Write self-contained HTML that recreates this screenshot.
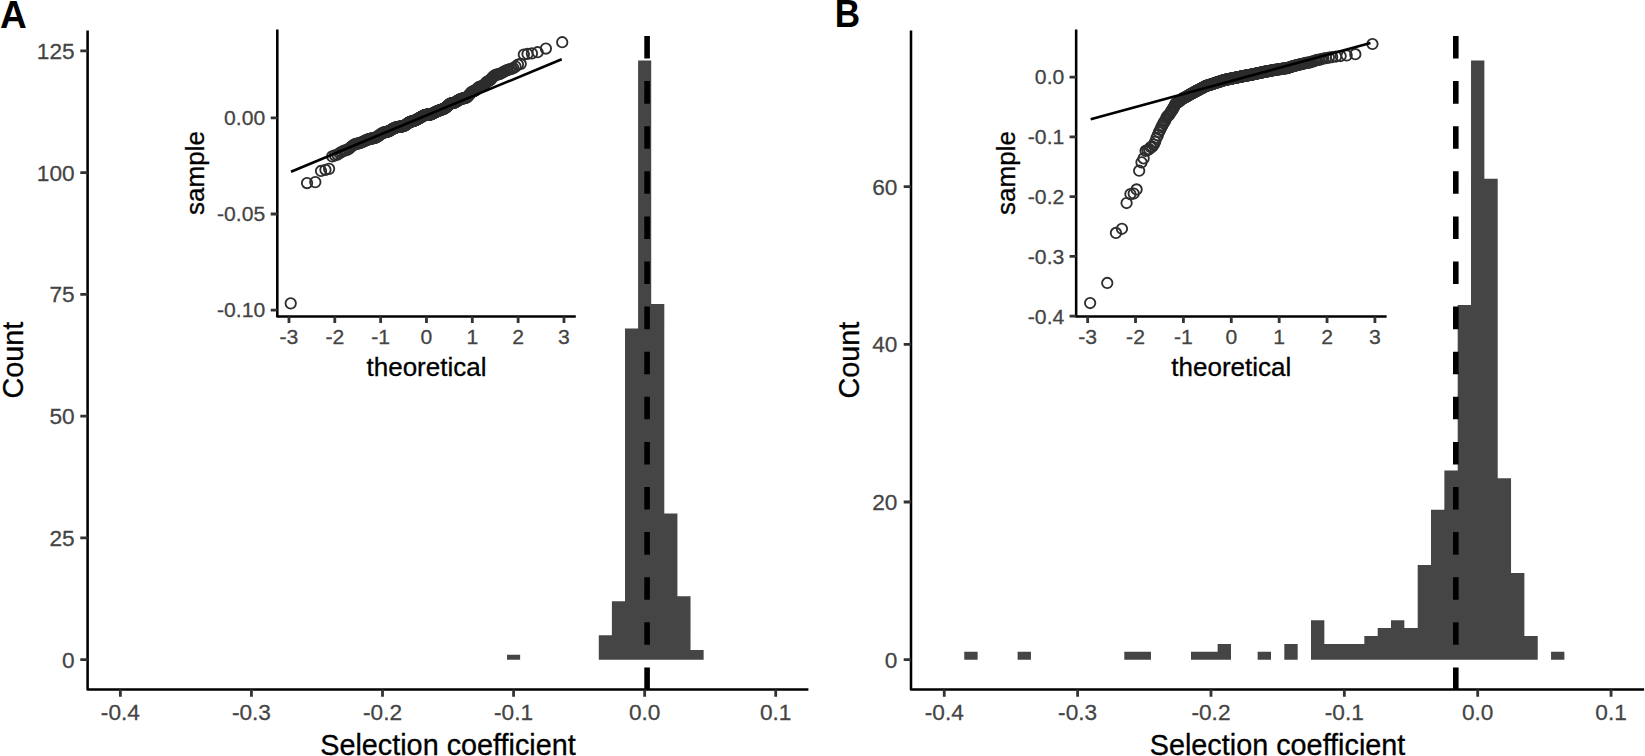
<!DOCTYPE html>
<html lang="en"><head><meta charset="utf-8"><title>Selection coefficient distributions</title>
<style>html,body{margin:0;padding:0;background:#fff;overflow:hidden}body{width:1645px;height:756px;font-family:"Liberation Sans", sans-serif}svg{display:block}</style></head>
<body>
<svg width="1645" height="756" viewBox="0 0 1645 756" font-family='"Liberation Sans", sans-serif' fill="#000">
<rect width="1645" height="756" fill="#fff"/>
<g id="panel-A">
<path d="M507.03 659.65h13.11v-4.87h-13.11zM598.78 659.65h13.11v-24.35h-13.11zM611.88 659.65h13.11v-58.45h-13.11zM624.99 659.65h13.11v-331.22h-13.11zM638.1 659.65h13.11v-599.12h-13.11zM651.2 659.65h13.11v-355.58h-13.11zM664.31 659.65h13.11v-146.13h-13.11zM677.42 659.65h13.11v-63.32h-13.11zM690.52 659.65h13.11v-9.74h-13.11z" fill="#454545"/>
<line x1="647.1" y1="689.95" x2="647.1" y2="30.6" stroke="#000" stroke-width="5.6" stroke-dasharray="22.55 22.55"/>
<path d="M87.6 30.6V689.5H808.4" stroke="#000" stroke-width="2.55" stroke-linejoin="round" fill="none"/>
<path d="M120.37 689.5v7.3M251.44 689.5v7.3M382.51 689.5v7.3M513.58 689.5v7.3M644.65 689.5v7.3M775.72 689.5v7.3M87.6 659.65h-7.3M87.6 537.88h-7.3M87.6 416.11h-7.3M87.6 294.33h-7.3M87.6 172.56h-7.3M87.6 50.79h-7.3" stroke="#333" stroke-width="2.8" fill="none"/>
<g font-size="21.8" fill="#444" stroke="#444" stroke-width="0.25">
<text transform="translate(120.37 720.3) scale(1.04 1)" text-anchor="middle">-0.4</text>
<text transform="translate(251.44 720.3) scale(1.04 1)" text-anchor="middle">-0.3</text>
<text transform="translate(382.51 720.3) scale(1.04 1)" text-anchor="middle">-0.2</text>
<text transform="translate(513.58 720.3) scale(1.04 1)" text-anchor="middle">-0.1</text>
<text transform="translate(644.65 720.3) scale(1.04 1)" text-anchor="middle">0.0</text>
<text transform="translate(775.72 720.3) scale(1.04 1)" text-anchor="middle">0.1</text>
<text transform="translate(74.6 667.65) scale(1.04 1)" text-anchor="end">0</text>
<text transform="translate(74.6 545.88) scale(1.04 1)" text-anchor="end">25</text>
<text transform="translate(74.6 424.11) scale(1.04 1)" text-anchor="end">50</text>
<text transform="translate(74.6 302.33) scale(1.04 1)" text-anchor="end">75</text>
<text transform="translate(74.6 180.56) scale(1.04 1)" text-anchor="end">100</text>
<text transform="translate(74.6 58.79) scale(1.04 1)" text-anchor="end">125</text>
</g>
<text x="448" y="754.6" font-size="28.8" stroke="#000" stroke-width="0.3" text-anchor="middle">Selection coefficient</text>
<text transform="translate(23.3 360.05) rotate(-90)" font-size="28.8" stroke="#000" stroke-width="0.3" text-anchor="middle">Count</text>
<text transform="translate(0 27.7) scale(0.97 1)" font-size="38.2" font-weight="bold">A</text>
<g id="inset-A">
<g fill="none" stroke="#2d2d2d" stroke-width="1.85">
<circle cx="290.72" cy="303.36" r="5.2"/>
<circle cx="307.05" cy="183.08" r="5.2"/>
<circle cx="315.31" cy="182.11" r="5.2"/>
<circle cx="321.02" cy="170.97" r="5.2"/>
<circle cx="325.45" cy="169.82" r="5.2"/>
<circle cx="329.1" cy="168.86" r="5.2"/>
<circle cx="332.22" cy="156.37" r="5.2"/>
<circle cx="334.96" cy="155.34" r="5.2"/>
<circle cx="337.41" cy="154.58" r="5.2"/>
<circle cx="339.62" cy="153.17" r="5.2"/>
<circle cx="341.65" cy="151.83" r="5.2"/>
<circle cx="343.52" cy="150.97" r="5.2"/>
<circle cx="345.27" cy="150.45" r="5.2"/>
<circle cx="346.91" cy="149.9" r="5.2"/>
<circle cx="348.45" cy="149.07" r="5.2"/>
<circle cx="349.9" cy="147.97" r="5.2"/>
<circle cx="351.28" cy="146.76" r="5.2"/>
<circle cx="352.6" cy="145.64" r="5.2"/>
<circle cx="353.86" cy="144.76" r="5.2"/>
<circle cx="355.07" cy="144.16" r="5.2"/>
<circle cx="356.23" cy="143.8" r="5.2"/>
<circle cx="357.34" cy="143.56" r="5.2"/>
<circle cx="358.42" cy="143.36" r="5.2"/>
<circle cx="359.46" cy="143.11" r="5.2"/>
<circle cx="360.47" cy="142.78" r="5.2"/>
<circle cx="361.44" cy="142.43" r="5.2"/>
<circle cx="362.39" cy="142.04" r="5.2"/>
<circle cx="363.31" cy="141.6" r="5.2"/>
<circle cx="364.21" cy="141.16" r="5.2"/>
<circle cx="365.08" cy="140.73" r="5.2"/>
<circle cx="365.93" cy="140.32" r="5.2"/>
<circle cx="366.76" cy="139.94" r="5.2"/>
<circle cx="367.57" cy="139.6" r="5.2"/>
<circle cx="368.37" cy="139.31" r="5.2"/>
<circle cx="369.14" cy="139.06" r="5.2"/>
<circle cx="369.9" cy="138.86" r="5.2"/>
<circle cx="370.65" cy="138.69" r="5.2"/>
<circle cx="371.38" cy="138.55" r="5.2"/>
<circle cx="372.09" cy="138.42" r="5.2"/>
<circle cx="372.8" cy="138.29" r="5.2"/>
<circle cx="373.49" cy="138.16" r="5.2"/>
<circle cx="374.17" cy="138" r="5.2"/>
<circle cx="374.84" cy="137.8" r="5.2"/>
<circle cx="375.49" cy="137.57" r="5.2"/>
<circle cx="376.14" cy="137.3" r="5.2"/>
<circle cx="376.78" cy="136.97" r="5.2"/>
<circle cx="377.41" cy="136.6" r="5.2"/>
<circle cx="378.03" cy="136.2" r="5.2"/>
<circle cx="378.64" cy="135.77" r="5.2"/>
<circle cx="379.24" cy="135.32" r="5.2"/>
<circle cx="379.83" cy="134.87" r="5.2"/>
<circle cx="380.42" cy="134.43" r="5.2"/>
<circle cx="380.99" cy="134.01" r="5.2"/>
<circle cx="381.57" cy="133.62" r="5.2"/>
<circle cx="382.13" cy="133.27" r="5.2"/>
<circle cx="382.69" cy="132.97" r="5.2"/>
<circle cx="383.24" cy="132.72" r="5.2"/>
<circle cx="383.78" cy="132.52" r="5.2"/>
<circle cx="384.32" cy="132.36" r="5.2"/>
<circle cx="384.86" cy="132.23" r="5.2"/>
<circle cx="385.38" cy="132.12" r="5.2"/>
<circle cx="385.91" cy="132.02" r="5.2"/>
<circle cx="386.42" cy="131.91" r="5.2"/>
<circle cx="386.94" cy="131.8" r="5.2"/>
<circle cx="387.44" cy="131.66" r="5.2"/>
<circle cx="387.95" cy="131.5" r="5.2"/>
<circle cx="388.44" cy="131.32" r="5.2"/>
<circle cx="388.94" cy="131.1" r="5.2"/>
<circle cx="389.43" cy="130.86" r="5.2"/>
<circle cx="389.91" cy="130.61" r="5.2"/>
<circle cx="390.39" cy="130.33" r="5.2"/>
<circle cx="390.87" cy="130.04" r="5.2"/>
<circle cx="391.34" cy="129.75" r="5.2"/>
<circle cx="391.81" cy="129.47" r="5.2"/>
<circle cx="392.28" cy="129.19" r="5.2"/>
<circle cx="392.74" cy="128.91" r="5.2"/>
<circle cx="393.2" cy="128.65" r="5.2"/>
<circle cx="393.65" cy="128.41" r="5.2"/>
<circle cx="394.11" cy="128.19" r="5.2"/>
<circle cx="394.56" cy="127.98" r="5.2"/>
<circle cx="395" cy="127.8" r="5.2"/>
<circle cx="395.45" cy="127.64" r="5.2"/>
<circle cx="395.89" cy="127.49" r="5.2"/>
<circle cx="396.32" cy="127.36" r="5.2"/>
<circle cx="396.76" cy="127.24" r="5.2"/>
<circle cx="397.19" cy="127.14" r="5.2"/>
<circle cx="397.62" cy="127.05" r="5.2"/>
<circle cx="398.05" cy="126.97" r="5.2"/>
<circle cx="398.47" cy="126.9" r="5.2"/>
<circle cx="398.89" cy="126.83" r="5.2"/>
<circle cx="399.31" cy="126.77" r="5.2"/>
<circle cx="399.73" cy="126.71" r="5.2"/>
<circle cx="400.15" cy="126.66" r="5.2"/>
<circle cx="400.56" cy="126.61" r="5.2"/>
<circle cx="400.97" cy="126.55" r="5.2"/>
<circle cx="401.38" cy="126.49" r="5.2"/>
<circle cx="401.79" cy="126.43" r="5.2"/>
<circle cx="402.19" cy="126.36" r="5.2"/>
<circle cx="402.6" cy="126.27" r="5.2"/>
<circle cx="403" cy="126.17" r="5.2"/>
<circle cx="403.4" cy="126.05" r="5.2"/>
<circle cx="403.8" cy="125.91" r="5.2"/>
<circle cx="404.19" cy="125.74" r="5.2"/>
<circle cx="404.59" cy="125.55" r="5.2"/>
<circle cx="404.98" cy="125.34" r="5.2"/>
<circle cx="405.37" cy="125.1" r="5.2"/>
<circle cx="405.76" cy="124.85" r="5.2"/>
<circle cx="406.15" cy="124.58" r="5.2"/>
<circle cx="406.54" cy="124.29" r="5.2"/>
<circle cx="406.92" cy="123.99" r="5.2"/>
<circle cx="407.31" cy="123.69" r="5.2"/>
<circle cx="407.69" cy="123.41" r="5.2"/>
<circle cx="408.07" cy="123.13" r="5.2"/>
<circle cx="408.45" cy="122.87" r="5.2"/>
<circle cx="408.83" cy="122.63" r="5.2"/>
<circle cx="409.21" cy="122.4" r="5.2"/>
<circle cx="409.58" cy="122.2" r="5.2"/>
<circle cx="409.96" cy="122.02" r="5.2"/>
<circle cx="410.33" cy="121.87" r="5.2"/>
<circle cx="410.71" cy="121.73" r="5.2"/>
<circle cx="411.08" cy="121.61" r="5.2"/>
<circle cx="411.45" cy="121.5" r="5.2"/>
<circle cx="411.82" cy="121.41" r="5.2"/>
<circle cx="412.19" cy="121.31" r="5.2"/>
<circle cx="412.56" cy="121.22" r="5.2"/>
<circle cx="412.92" cy="121.12" r="5.2"/>
<circle cx="413.29" cy="121.01" r="5.2"/>
<circle cx="413.66" cy="120.9" r="5.2"/>
<circle cx="414.02" cy="120.79" r="5.2"/>
<circle cx="414.39" cy="120.66" r="5.2"/>
<circle cx="414.75" cy="120.52" r="5.2"/>
<circle cx="415.11" cy="120.37" r="5.2"/>
<circle cx="415.47" cy="120.21" r="5.2"/>
<circle cx="415.84" cy="120.04" r="5.2"/>
<circle cx="416.2" cy="119.87" r="5.2"/>
<circle cx="416.56" cy="119.68" r="5.2"/>
<circle cx="416.92" cy="119.49" r="5.2"/>
<circle cx="417.27" cy="119.3" r="5.2"/>
<circle cx="417.63" cy="119.1" r="5.2"/>
<circle cx="417.99" cy="118.89" r="5.2"/>
<circle cx="418.35" cy="118.69" r="5.2"/>
<circle cx="418.7" cy="118.48" r="5.2"/>
<circle cx="419.06" cy="118.28" r="5.2"/>
<circle cx="419.42" cy="118.06" r="5.2"/>
<circle cx="419.77" cy="117.85" r="5.2"/>
<circle cx="420.13" cy="117.64" r="5.2"/>
<circle cx="420.48" cy="117.44" r="5.2"/>
<circle cx="420.83" cy="117.22" r="5.2"/>
<circle cx="421.19" cy="117.01" r="5.2"/>
<circle cx="421.54" cy="116.8" r="5.2"/>
<circle cx="421.9" cy="116.59" r="5.2"/>
<circle cx="422.25" cy="116.39" r="5.2"/>
<circle cx="422.6" cy="116.19" r="5.2"/>
<circle cx="422.95" cy="116" r="5.2"/>
<circle cx="423.31" cy="115.81" r="5.2"/>
<circle cx="423.66" cy="115.64" r="5.2"/>
<circle cx="424.01" cy="115.47" r="5.2"/>
<circle cx="424.36" cy="115.32" r="5.2"/>
<circle cx="424.71" cy="115.18" r="5.2"/>
<circle cx="425.06" cy="115.06" r="5.2"/>
<circle cx="425.42" cy="114.96" r="5.2"/>
<circle cx="425.77" cy="114.88" r="5.2"/>
<circle cx="426.12" cy="114.81" r="5.2"/>
<circle cx="426.47" cy="114.77" r="5.2"/>
<circle cx="426.82" cy="114.73" r="5.2"/>
<circle cx="427.17" cy="114.72" r="5.2"/>
<circle cx="427.52" cy="114.71" r="5.2"/>
<circle cx="427.88" cy="114.7" r="5.2"/>
<circle cx="428.23" cy="114.7" r="5.2"/>
<circle cx="428.58" cy="114.7" r="5.2"/>
<circle cx="428.93" cy="114.69" r="5.2"/>
<circle cx="429.28" cy="114.66" r="5.2"/>
<circle cx="429.63" cy="114.62" r="5.2"/>
<circle cx="429.99" cy="114.57" r="5.2"/>
<circle cx="430.34" cy="114.5" r="5.2"/>
<circle cx="430.69" cy="114.4" r="5.2"/>
<circle cx="431.04" cy="114.29" r="5.2"/>
<circle cx="431.4" cy="114.16" r="5.2"/>
<circle cx="431.75" cy="114.01" r="5.2"/>
<circle cx="432.11" cy="113.85" r="5.2"/>
<circle cx="432.46" cy="113.67" r="5.2"/>
<circle cx="432.81" cy="113.49" r="5.2"/>
<circle cx="433.17" cy="113.3" r="5.2"/>
<circle cx="433.52" cy="113.11" r="5.2"/>
<circle cx="433.88" cy="112.92" r="5.2"/>
<circle cx="434.24" cy="112.73" r="5.2"/>
<circle cx="434.59" cy="112.54" r="5.2"/>
<circle cx="434.95" cy="112.35" r="5.2"/>
<circle cx="435.31" cy="112.17" r="5.2"/>
<circle cx="435.67" cy="111.99" r="5.2"/>
<circle cx="436.02" cy="111.82" r="5.2"/>
<circle cx="436.38" cy="111.65" r="5.2"/>
<circle cx="436.74" cy="111.49" r="5.2"/>
<circle cx="437.1" cy="111.33" r="5.2"/>
<circle cx="437.47" cy="111.18" r="5.2"/>
<circle cx="437.83" cy="111.02" r="5.2"/>
<circle cx="438.19" cy="110.88" r="5.2"/>
<circle cx="438.55" cy="110.74" r="5.2"/>
<circle cx="438.92" cy="110.6" r="5.2"/>
<circle cx="439.28" cy="110.47" r="5.2"/>
<circle cx="439.65" cy="110.34" r="5.2"/>
<circle cx="440.02" cy="110.19" r="5.2"/>
<circle cx="440.38" cy="110.04" r="5.2"/>
<circle cx="440.75" cy="109.9" r="5.2"/>
<circle cx="441.12" cy="109.77" r="5.2"/>
<circle cx="441.49" cy="109.64" r="5.2"/>
<circle cx="441.86" cy="109.52" r="5.2"/>
<circle cx="442.23" cy="109.39" r="5.2"/>
<circle cx="442.61" cy="109.26" r="5.2"/>
<circle cx="442.98" cy="109.13" r="5.2"/>
<circle cx="443.36" cy="108.98" r="5.2"/>
<circle cx="443.73" cy="108.82" r="5.2"/>
<circle cx="444.11" cy="108.65" r="5.2"/>
<circle cx="444.49" cy="108.45" r="5.2"/>
<circle cx="444.87" cy="108.23" r="5.2"/>
<circle cx="445.25" cy="107.98" r="5.2"/>
<circle cx="445.63" cy="107.7" r="5.2"/>
<circle cx="446.02" cy="107.39" r="5.2"/>
<circle cx="446.4" cy="107.06" r="5.2"/>
<circle cx="446.79" cy="106.7" r="5.2"/>
<circle cx="447.18" cy="106.33" r="5.2"/>
<circle cx="447.57" cy="105.95" r="5.2"/>
<circle cx="447.96" cy="105.56" r="5.2"/>
<circle cx="448.35" cy="105.18" r="5.2"/>
<circle cx="448.75" cy="104.82" r="5.2"/>
<circle cx="449.14" cy="104.49" r="5.2"/>
<circle cx="449.54" cy="104.19" r="5.2"/>
<circle cx="449.94" cy="103.93" r="5.2"/>
<circle cx="450.34" cy="103.72" r="5.2"/>
<circle cx="450.75" cy="103.54" r="5.2"/>
<circle cx="451.15" cy="103.4" r="5.2"/>
<circle cx="451.56" cy="103.29" r="5.2"/>
<circle cx="451.97" cy="103.2" r="5.2"/>
<circle cx="452.38" cy="103.14" r="5.2"/>
<circle cx="452.79" cy="103.07" r="5.2"/>
<circle cx="453.21" cy="102.99" r="5.2"/>
<circle cx="453.63" cy="102.9" r="5.2"/>
<circle cx="454.05" cy="102.78" r="5.2"/>
<circle cx="454.47" cy="102.64" r="5.2"/>
<circle cx="454.89" cy="102.46" r="5.2"/>
<circle cx="455.32" cy="102.26" r="5.2"/>
<circle cx="455.75" cy="102.02" r="5.2"/>
<circle cx="456.18" cy="101.76" r="5.2"/>
<circle cx="456.62" cy="101.49" r="5.2"/>
<circle cx="457.05" cy="101.19" r="5.2"/>
<circle cx="457.49" cy="100.89" r="5.2"/>
<circle cx="457.94" cy="100.6" r="5.2"/>
<circle cx="458.38" cy="100.31" r="5.2"/>
<circle cx="458.83" cy="100.03" r="5.2"/>
<circle cx="459.29" cy="99.77" r="5.2"/>
<circle cx="459.74" cy="99.53" r="5.2"/>
<circle cx="460.2" cy="99.31" r="5.2"/>
<circle cx="460.66" cy="99.11" r="5.2"/>
<circle cx="461.13" cy="98.94" r="5.2"/>
<circle cx="461.6" cy="98.78" r="5.2"/>
<circle cx="462.07" cy="98.65" r="5.2"/>
<circle cx="462.55" cy="98.53" r="5.2"/>
<circle cx="463.03" cy="98.42" r="5.2"/>
<circle cx="463.51" cy="98.32" r="5.2"/>
<circle cx="464" cy="98.21" r="5.2"/>
<circle cx="464.5" cy="98.1" r="5.2"/>
<circle cx="464.99" cy="97.98" r="5.2"/>
<circle cx="465.5" cy="97.84" r="5.2"/>
<circle cx="466" cy="97.67" r="5.2"/>
<circle cx="466.52" cy="97.41" r="5.2"/>
<circle cx="467.03" cy="97.06" r="5.2"/>
<circle cx="467.56" cy="96.63" r="5.2"/>
<circle cx="468.08" cy="96.12" r="5.2"/>
<circle cx="468.62" cy="95.53" r="5.2"/>
<circle cx="469.16" cy="94.89" r="5.2"/>
<circle cx="469.7" cy="94.23" r="5.2"/>
<circle cx="470.25" cy="93.58" r="5.2"/>
<circle cx="470.81" cy="92.98" r="5.2"/>
<circle cx="471.37" cy="92.45" r="5.2"/>
<circle cx="471.95" cy="92.02" r="5.2"/>
<circle cx="472.52" cy="91.68" r="5.2"/>
<circle cx="473.11" cy="91.42" r="5.2"/>
<circle cx="473.7" cy="91.2" r="5.2"/>
<circle cx="474.3" cy="90.96" r="5.2"/>
<circle cx="474.91" cy="90.67" r="5.2"/>
<circle cx="475.53" cy="90.27" r="5.2"/>
<circle cx="476.16" cy="89.76" r="5.2"/>
<circle cx="476.8" cy="89.15" r="5.2"/>
<circle cx="477.45" cy="88.48" r="5.2"/>
<circle cx="478.1" cy="87.84" r="5.2"/>
<circle cx="478.77" cy="87.29" r="5.2"/>
<circle cx="479.45" cy="86.88" r="5.2"/>
<circle cx="480.14" cy="86.62" r="5.2"/>
<circle cx="480.85" cy="86.51" r="5.2"/>
<circle cx="481.56" cy="86.44" r="5.2"/>
<circle cx="482.29" cy="86.28" r="5.2"/>
<circle cx="483.04" cy="85.91" r="5.2"/>
<circle cx="483.8" cy="85.28" r="5.2"/>
<circle cx="484.57" cy="84.44" r="5.2"/>
<circle cx="485.37" cy="83.52" r="5.2"/>
<circle cx="486.18" cy="82.65" r="5.2"/>
<circle cx="487.01" cy="81.94" r="5.2"/>
<circle cx="487.86" cy="81.42" r="5.2"/>
<circle cx="488.73" cy="80.98" r="5.2"/>
<circle cx="489.63" cy="80.46" r="5.2"/>
<circle cx="490.55" cy="79.69" r="5.2"/>
<circle cx="491.5" cy="78.62" r="5.2"/>
<circle cx="492.47" cy="77.35" r="5.2"/>
<circle cx="493.48" cy="76.34" r="5.2"/>
<circle cx="494.52" cy="75.51" r="5.2"/>
<circle cx="495.6" cy="74.92" r="5.2"/>
<circle cx="496.71" cy="74.59" r="5.2"/>
<circle cx="497.87" cy="74.38" r="5.2"/>
<circle cx="499.08" cy="74.12" r="5.2"/>
<circle cx="500.34" cy="73.63" r="5.2"/>
<circle cx="501.66" cy="73.02" r="5.2"/>
<circle cx="503.04" cy="72.24" r="5.2"/>
<circle cx="504.49" cy="71.37" r="5.2"/>
<circle cx="506.03" cy="70.57" r="5.2"/>
<circle cx="507.67" cy="69.94" r="5.2"/>
<circle cx="509.42" cy="69.48" r="5.2"/>
<circle cx="511.29" cy="68.99" r="5.2"/>
<circle cx="513.32" cy="68.1" r="5.2"/>
<circle cx="515.53" cy="66.55" r="5.2"/>
<circle cx="517.98" cy="64.58" r="5.2"/>
<circle cx="520.72" cy="63.95" r="5.2"/>
<circle cx="523.84" cy="54.53" r="5.2"/>
<circle cx="527.49" cy="53.96" r="5.2"/>
<circle cx="531.92" cy="53.38" r="5.2"/>
<circle cx="537.63" cy="52.23" r="5.2"/>
<circle cx="545.89" cy="48.58" r="5.2"/>
<circle cx="562.22" cy="42.24" r="5.2"/>
</g>
<line x1="291" y1="171.8" x2="561.7" y2="59.2" stroke="#000" stroke-width="2.6"/>
<path d="M277.3 29.5V316.43H575.8" stroke="#000" stroke-width="2.55" stroke-linejoin="round" fill="none"/>
<path d="M288.97 316.43v6.6M334.8 316.43v6.6M380.64 316.43v6.6M426.47 316.43v6.6M472.3 316.43v6.6M518.14 316.43v6.6M563.97 316.43v6.6M277.3 117.94h-6.6M277.3 214.01h-6.6M277.3 310.08h-6.6" stroke="#333" stroke-width="2.8" fill="none"/>
<g font-size="19.8" fill="#444" stroke="#444" stroke-width="0.25">
<text transform="translate(288.97 343.6) scale(1.07 1)" text-anchor="middle">-3</text>
<text transform="translate(334.8 343.6) scale(1.07 1)" text-anchor="middle">-2</text>
<text transform="translate(380.64 343.6) scale(1.07 1)" text-anchor="middle">-1</text>
<text transform="translate(426.47 343.6) scale(1.07 1)" text-anchor="middle">0</text>
<text transform="translate(472.3 343.6) scale(1.07 1)" text-anchor="middle">1</text>
<text transform="translate(518.14 343.6) scale(1.07 1)" text-anchor="middle">2</text>
<text transform="translate(563.97 343.6) scale(1.07 1)" text-anchor="middle">3</text>
<text transform="translate(265.2 125.29) scale(1.07 1)" text-anchor="end">0.00</text>
<text transform="translate(265.2 221.36) scale(1.07 1)" text-anchor="end">-0.05</text>
<text transform="translate(265.2 317.43) scale(1.07 1)" text-anchor="end">-0.10</text>
</g>
<text x="426.47" y="376.1" font-size="26.0" stroke="#000" stroke-width="0.3" text-anchor="middle">theoretical</text>
<text transform="translate(204.3 172.97) rotate(-90)" font-size="26.0" stroke="#000" stroke-width="0.3" text-anchor="middle">sample</text>
</g></g>
<g id="panel-B">
<path d="M964.26 659.65h13.34v-7.88h-13.34zM1017.61 659.65h13.34v-7.88h-13.34zM1124.3 659.65h13.34v-7.88h-13.34zM1137.63 659.65h13.34v-7.88h-13.34zM1190.98 659.65h13.34v-7.88h-13.34zM1204.31 659.65h13.34v-7.88h-13.34zM1217.65 659.65h13.34v-15.77h-13.34zM1257.66 659.65h13.34v-7.88h-13.34zM1284.33 659.65h13.34v-15.77h-13.34zM1311 659.65h13.34v-39.42h-13.34zM1324.34 659.65h13.34v-15.77h-13.34zM1337.67 659.65h13.34v-15.77h-13.34zM1351.01 659.65h13.34v-15.77h-13.34zM1364.34 659.65h13.34v-23.65h-13.34zM1377.68 659.65h13.34v-31.53h-13.34zM1391.02 659.65h13.34v-39.42h-13.34zM1404.35 659.65h13.34v-31.53h-13.34zM1417.69 659.65h13.34v-94.6h-13.34zM1431.02 659.65h13.34v-149.79h-13.34zM1444.36 659.65h13.34v-189.2h-13.34zM1457.7 659.65h13.34v-354.76h-13.34zM1471.03 659.65h13.34v-599.15h-13.34zM1484.37 659.65h13.34v-480.89h-13.34zM1497.7 659.65h13.34v-181.32h-13.34zM1511.04 659.65h13.34v-86.72h-13.34zM1524.38 659.65h13.34v-23.65h-13.34zM1551.05 659.65h13.34v-7.88h-13.34z" fill="#454545"/>
<line x1="1455.8" y1="689.95" x2="1455.8" y2="30.6" stroke="#000" stroke-width="5.6" stroke-dasharray="22.55 22.55"/>
<path d="M911 30.6V689.5H1644.1" stroke="#000" stroke-width="2.55" stroke-linejoin="round" fill="none"/>
<path d="M944.26 689.5v7.3M1077.62 689.5v7.3M1210.98 689.5v7.3M1344.34 689.5v7.3M1477.7 689.5v7.3M1611.06 689.5v7.3M911 659.65h-7.3M911 501.98h-7.3M911 344.31h-7.3M911 186.64h-7.3" stroke="#333" stroke-width="2.8" fill="none"/>
<g font-size="21.8" fill="#444" stroke="#444" stroke-width="0.25">
<text transform="translate(944.26 720.3) scale(1.04 1)" text-anchor="middle">-0.4</text>
<text transform="translate(1077.62 720.3) scale(1.04 1)" text-anchor="middle">-0.3</text>
<text transform="translate(1210.98 720.3) scale(1.04 1)" text-anchor="middle">-0.2</text>
<text transform="translate(1344.34 720.3) scale(1.04 1)" text-anchor="middle">-0.1</text>
<text transform="translate(1477.7 720.3) scale(1.04 1)" text-anchor="middle">0.0</text>
<text transform="translate(1611.06 720.3) scale(1.04 1)" text-anchor="middle">0.1</text>
<text transform="translate(897.4 667.65) scale(1.04 1)" text-anchor="end">0</text>
<text transform="translate(897.4 509.98) scale(1.04 1)" text-anchor="end">20</text>
<text transform="translate(897.4 352.31) scale(1.04 1)" text-anchor="end">40</text>
<text transform="translate(897.4 194.64) scale(1.04 1)" text-anchor="end">60</text>
</g>
<text x="1277.55" y="754.6" font-size="28.8" stroke="#000" stroke-width="0.3" text-anchor="middle">Selection coefficient</text>
<text transform="translate(859.3 360.05) rotate(-90)" font-size="28.8" stroke="#000" stroke-width="0.3" text-anchor="middle">Count</text>
<text transform="translate(834.8 27.4) scale(0.92 1)" font-size="38.2" font-weight="bold">B</text>
<g id="inset-B">
<g fill="none" stroke="#2d2d2d" stroke-width="1.85">
<circle cx="1090.13" cy="303.01" r="5.2"/>
<circle cx="1107.26" cy="282.98" r="5.2"/>
<circle cx="1115.93" cy="232.95" r="5.2"/>
<circle cx="1121.93" cy="228.77" r="5.2"/>
<circle cx="1126.59" cy="203.01" r="5.2"/>
<circle cx="1130.43" cy="194.1" r="5.2"/>
<circle cx="1133.71" cy="193.5" r="5.2"/>
<circle cx="1136.59" cy="189.44" r="5.2"/>
<circle cx="1139.16" cy="170.73" r="5.2"/>
<circle cx="1141.49" cy="162.36" r="5.2"/>
<circle cx="1143.62" cy="158.35" r="5.2"/>
<circle cx="1145.6" cy="150.92" r="5.2"/>
<circle cx="1147.44" cy="150.05" r="5.2"/>
<circle cx="1149.16" cy="149.16" r="5.2"/>
<circle cx="1150.78" cy="147.19" r="5.2"/>
<circle cx="1152.31" cy="146.64" r="5.2"/>
<circle cx="1153.77" cy="144.54" r="5.2"/>
<circle cx="1155.16" cy="141.87" r="5.2"/>
<circle cx="1156.49" cy="137.98" r="5.2"/>
<circle cx="1157.76" cy="135.13" r="5.2"/>
<circle cx="1158.98" cy="132.08" r="5.2"/>
<circle cx="1160.16" cy="129.99" r="5.2"/>
<circle cx="1161.3" cy="127.26" r="5.2"/>
<circle cx="1162.4" cy="125.32" r="5.2"/>
<circle cx="1163.46" cy="123.2" r="5.2"/>
<circle cx="1164.49" cy="121.62" r="5.2"/>
<circle cx="1165.49" cy="120.1" r="5.2"/>
<circle cx="1166.46" cy="117.53" r="5.2"/>
<circle cx="1167.41" cy="116.04" r="5.2"/>
<circle cx="1168.33" cy="115.65" r="5.2"/>
<circle cx="1169.23" cy="114.63" r="5.2"/>
<circle cx="1170.11" cy="113.24" r="5.2"/>
<circle cx="1170.96" cy="111.51" r="5.2"/>
<circle cx="1171.8" cy="110.23" r="5.2"/>
<circle cx="1172.62" cy="109.83" r="5.2"/>
<circle cx="1173.43" cy="107.59" r="5.2"/>
<circle cx="1174.22" cy="106.87" r="5.2"/>
<circle cx="1174.99" cy="104.69" r="5.2"/>
<circle cx="1175.75" cy="103.65" r="5.2"/>
<circle cx="1176.49" cy="102.99" r="5.2"/>
<circle cx="1177.22" cy="102.82" r="5.2"/>
<circle cx="1177.94" cy="102.08" r="5.2"/>
<circle cx="1178.65" cy="101.55" r="5.2"/>
<circle cx="1179.35" cy="101.03" r="5.2"/>
<circle cx="1180.03" cy="100.94" r="5.2"/>
<circle cx="1180.71" cy="100.24" r="5.2"/>
<circle cx="1181.37" cy="99.51" r="5.2"/>
<circle cx="1182.03" cy="99.27" r="5.2"/>
<circle cx="1182.67" cy="98.59" r="5.2"/>
<circle cx="1183.31" cy="98.21" r="5.2"/>
<circle cx="1183.94" cy="97.75" r="5.2"/>
<circle cx="1184.56" cy="97.51" r="5.2"/>
<circle cx="1185.18" cy="97.33" r="5.2"/>
<circle cx="1185.78" cy="97" r="5.2"/>
<circle cx="1186.38" cy="96.68" r="5.2"/>
<circle cx="1186.97" cy="96.32" r="5.2"/>
<circle cx="1187.56" cy="95.8" r="5.2"/>
<circle cx="1188.14" cy="95.58" r="5.2"/>
<circle cx="1188.71" cy="95.22" r="5.2"/>
<circle cx="1189.27" cy="94.97" r="5.2"/>
<circle cx="1189.84" cy="94.64" r="5.2"/>
<circle cx="1190.39" cy="94.27" r="5.2"/>
<circle cx="1190.94" cy="93.93" r="5.2"/>
<circle cx="1191.48" cy="93.62" r="5.2"/>
<circle cx="1192.02" cy="93.33" r="5.2"/>
<circle cx="1192.56" cy="93.22" r="5.2"/>
<circle cx="1193.09" cy="92.83" r="5.2"/>
<circle cx="1193.61" cy="92.61" r="5.2"/>
<circle cx="1194.13" cy="92.15" r="5.2"/>
<circle cx="1194.65" cy="91.81" r="5.2"/>
<circle cx="1195.16" cy="91.73" r="5.2"/>
<circle cx="1195.67" cy="91.45" r="5.2"/>
<circle cx="1196.17" cy="91.16" r="5.2"/>
<circle cx="1196.67" cy="90.94" r="5.2"/>
<circle cx="1197.17" cy="90.57" r="5.2"/>
<circle cx="1197.66" cy="90.42" r="5.2"/>
<circle cx="1198.15" cy="90.1" r="5.2"/>
<circle cx="1198.63" cy="89.89" r="5.2"/>
<circle cx="1199.12" cy="89.62" r="5.2"/>
<circle cx="1199.6" cy="89.29" r="5.2"/>
<circle cx="1200.07" cy="89.04" r="5.2"/>
<circle cx="1200.54" cy="88.98" r="5.2"/>
<circle cx="1201.01" cy="88.56" r="5.2"/>
<circle cx="1201.48" cy="88.43" r="5.2"/>
<circle cx="1201.95" cy="88.23" r="5.2"/>
<circle cx="1202.41" cy="87.92" r="5.2"/>
<circle cx="1202.87" cy="87.64" r="5.2"/>
<circle cx="1203.32" cy="87.29" r="5.2"/>
<circle cx="1203.77" cy="87.18" r="5.2"/>
<circle cx="1204.23" cy="87.01" r="5.2"/>
<circle cx="1204.67" cy="86.57" r="5.2"/>
<circle cx="1205.12" cy="86.49" r="5.2"/>
<circle cx="1205.56" cy="86.16" r="5.2"/>
<circle cx="1206.01" cy="85.92" r="5.2"/>
<circle cx="1206.45" cy="85.83" r="5.2"/>
<circle cx="1206.88" cy="85.7" r="5.2"/>
<circle cx="1207.32" cy="85.53" r="5.2"/>
<circle cx="1207.75" cy="85.49" r="5.2"/>
<circle cx="1208.18" cy="85.29" r="5.2"/>
<circle cx="1208.61" cy="85.17" r="5.2"/>
<circle cx="1209.04" cy="84.97" r="5.2"/>
<circle cx="1209.47" cy="84.86" r="5.2"/>
<circle cx="1209.89" cy="84.82" r="5.2"/>
<circle cx="1210.32" cy="84.67" r="5.2"/>
<circle cx="1210.74" cy="84.5" r="5.2"/>
<circle cx="1211.16" cy="84.34" r="5.2"/>
<circle cx="1211.58" cy="84.25" r="5.2"/>
<circle cx="1211.99" cy="84.12" r="5.2"/>
<circle cx="1212.41" cy="83.92" r="5.2"/>
<circle cx="1212.82" cy="83.78" r="5.2"/>
<circle cx="1213.23" cy="83.71" r="5.2"/>
<circle cx="1213.64" cy="83.52" r="5.2"/>
<circle cx="1214.05" cy="83.46" r="5.2"/>
<circle cx="1214.46" cy="83.35" r="5.2"/>
<circle cx="1214.87" cy="83.17" r="5.2"/>
<circle cx="1215.28" cy="83.02" r="5.2"/>
<circle cx="1215.68" cy="82.86" r="5.2"/>
<circle cx="1216.08" cy="82.72" r="5.2"/>
<circle cx="1216.49" cy="82.61" r="5.2"/>
<circle cx="1216.89" cy="82.48" r="5.2"/>
<circle cx="1217.29" cy="82.35" r="5.2"/>
<circle cx="1217.69" cy="82.22" r="5.2"/>
<circle cx="1218.09" cy="82.08" r="5.2"/>
<circle cx="1218.49" cy="81.92" r="5.2"/>
<circle cx="1218.88" cy="81.86" r="5.2"/>
<circle cx="1219.28" cy="81.76" r="5.2"/>
<circle cx="1219.67" cy="81.61" r="5.2"/>
<circle cx="1220.07" cy="81.48" r="5.2"/>
<circle cx="1220.46" cy="81.33" r="5.2"/>
<circle cx="1220.86" cy="81.14" r="5.2"/>
<circle cx="1221.25" cy="81.1" r="5.2"/>
<circle cx="1221.64" cy="80.92" r="5.2"/>
<circle cx="1222.03" cy="80.74" r="5.2"/>
<circle cx="1222.42" cy="80.67" r="5.2"/>
<circle cx="1222.81" cy="80.57" r="5.2"/>
<circle cx="1223.2" cy="80.41" r="5.2"/>
<circle cx="1223.59" cy="80.3" r="5.2"/>
<circle cx="1223.98" cy="80.08" r="5.2"/>
<circle cx="1224.36" cy="80.03" r="5.2"/>
<circle cx="1224.75" cy="79.95" r="5.2"/>
<circle cx="1225.14" cy="79.83" r="5.2"/>
<circle cx="1225.52" cy="79.75" r="5.2"/>
<circle cx="1225.91" cy="79.69" r="5.2"/>
<circle cx="1226.3" cy="79.59" r="5.2"/>
<circle cx="1226.68" cy="79.57" r="5.2"/>
<circle cx="1227.07" cy="79.43" r="5.2"/>
<circle cx="1227.45" cy="79.38" r="5.2"/>
<circle cx="1227.84" cy="79.32" r="5.2"/>
<circle cx="1228.22" cy="79.2" r="5.2"/>
<circle cx="1228.6" cy="79.13" r="5.2"/>
<circle cx="1228.99" cy="79.03" r="5.2"/>
<circle cx="1229.37" cy="79.01" r="5.2"/>
<circle cx="1229.76" cy="78.9" r="5.2"/>
<circle cx="1230.14" cy="78.83" r="5.2"/>
<circle cx="1230.52" cy="78.74" r="5.2"/>
<circle cx="1230.91" cy="78.69" r="5.2"/>
<circle cx="1231.29" cy="78.63" r="5.2"/>
<circle cx="1231.67" cy="78.51" r="5.2"/>
<circle cx="1232.06" cy="78.45" r="5.2"/>
<circle cx="1232.44" cy="78.33" r="5.2"/>
<circle cx="1232.82" cy="78.28" r="5.2"/>
<circle cx="1233.21" cy="78.21" r="5.2"/>
<circle cx="1233.59" cy="78.11" r="5.2"/>
<circle cx="1233.98" cy="78.04" r="5.2"/>
<circle cx="1234.36" cy="77.93" r="5.2"/>
<circle cx="1234.74" cy="77.87" r="5.2"/>
<circle cx="1235.13" cy="77.81" r="5.2"/>
<circle cx="1235.51" cy="77.75" r="5.2"/>
<circle cx="1235.9" cy="77.64" r="5.2"/>
<circle cx="1236.28" cy="77.55" r="5.2"/>
<circle cx="1236.67" cy="77.47" r="5.2"/>
<circle cx="1237.06" cy="77.38" r="5.2"/>
<circle cx="1237.44" cy="77.36" r="5.2"/>
<circle cx="1237.83" cy="77.26" r="5.2"/>
<circle cx="1238.22" cy="77.18" r="5.2"/>
<circle cx="1238.6" cy="77.11" r="5.2"/>
<circle cx="1238.99" cy="77.03" r="5.2"/>
<circle cx="1239.38" cy="76.94" r="5.2"/>
<circle cx="1239.77" cy="76.86" r="5.2"/>
<circle cx="1240.16" cy="76.8" r="5.2"/>
<circle cx="1240.55" cy="76.73" r="5.2"/>
<circle cx="1240.94" cy="76.64" r="5.2"/>
<circle cx="1241.33" cy="76.57" r="5.2"/>
<circle cx="1241.72" cy="76.48" r="5.2"/>
<circle cx="1242.12" cy="76.38" r="5.2"/>
<circle cx="1242.51" cy="76.31" r="5.2"/>
<circle cx="1242.91" cy="76.2" r="5.2"/>
<circle cx="1243.3" cy="76.15" r="5.2"/>
<circle cx="1243.7" cy="76.07" r="5.2"/>
<circle cx="1244.09" cy="75.99" r="5.2"/>
<circle cx="1244.49" cy="75.9" r="5.2"/>
<circle cx="1244.89" cy="75.83" r="5.2"/>
<circle cx="1245.29" cy="75.76" r="5.2"/>
<circle cx="1245.69" cy="75.68" r="5.2"/>
<circle cx="1246.09" cy="75.62" r="5.2"/>
<circle cx="1246.5" cy="75.51" r="5.2"/>
<circle cx="1246.9" cy="75.44" r="5.2"/>
<circle cx="1247.3" cy="75.38" r="5.2"/>
<circle cx="1247.71" cy="75.31" r="5.2"/>
<circle cx="1248.12" cy="75.24" r="5.2"/>
<circle cx="1248.53" cy="75.14" r="5.2"/>
<circle cx="1248.94" cy="75.09" r="5.2"/>
<circle cx="1249.35" cy="75" r="5.2"/>
<circle cx="1249.76" cy="74.93" r="5.2"/>
<circle cx="1250.17" cy="74.83" r="5.2"/>
<circle cx="1250.59" cy="74.75" r="5.2"/>
<circle cx="1251" cy="74.65" r="5.2"/>
<circle cx="1251.42" cy="74.56" r="5.2"/>
<circle cx="1251.84" cy="74.5" r="5.2"/>
<circle cx="1252.26" cy="74.45" r="5.2"/>
<circle cx="1252.69" cy="74.32" r="5.2"/>
<circle cx="1253.11" cy="74.25" r="5.2"/>
<circle cx="1253.54" cy="74.19" r="5.2"/>
<circle cx="1253.97" cy="74.1" r="5.2"/>
<circle cx="1254.4" cy="74.02" r="5.2"/>
<circle cx="1254.83" cy="73.95" r="5.2"/>
<circle cx="1255.26" cy="73.81" r="5.2"/>
<circle cx="1255.7" cy="73.69" r="5.2"/>
<circle cx="1256.13" cy="73.61" r="5.2"/>
<circle cx="1256.57" cy="73.56" r="5.2"/>
<circle cx="1257.02" cy="73.47" r="5.2"/>
<circle cx="1257.46" cy="73.3" r="5.2"/>
<circle cx="1257.91" cy="73.2" r="5.2"/>
<circle cx="1258.35" cy="73.12" r="5.2"/>
<circle cx="1258.81" cy="73.02" r="5.2"/>
<circle cx="1259.26" cy="72.98" r="5.2"/>
<circle cx="1259.71" cy="72.82" r="5.2"/>
<circle cx="1260.17" cy="72.78" r="5.2"/>
<circle cx="1260.63" cy="72.68" r="5.2"/>
<circle cx="1261.1" cy="72.56" r="5.2"/>
<circle cx="1261.57" cy="72.5" r="5.2"/>
<circle cx="1262.04" cy="72.33" r="5.2"/>
<circle cx="1262.51" cy="72.29" r="5.2"/>
<circle cx="1262.98" cy="72.14" r="5.2"/>
<circle cx="1263.46" cy="72.06" r="5.2"/>
<circle cx="1263.95" cy="71.94" r="5.2"/>
<circle cx="1264.43" cy="71.86" r="5.2"/>
<circle cx="1264.92" cy="71.73" r="5.2"/>
<circle cx="1265.41" cy="71.68" r="5.2"/>
<circle cx="1265.91" cy="71.57" r="5.2"/>
<circle cx="1266.41" cy="71.49" r="5.2"/>
<circle cx="1266.91" cy="71.36" r="5.2"/>
<circle cx="1267.42" cy="71.3" r="5.2"/>
<circle cx="1267.93" cy="71.15" r="5.2"/>
<circle cx="1268.45" cy="71.12" r="5.2"/>
<circle cx="1268.97" cy="71.01" r="5.2"/>
<circle cx="1269.49" cy="70.89" r="5.2"/>
<circle cx="1270.02" cy="70.82" r="5.2"/>
<circle cx="1270.56" cy="70.72" r="5.2"/>
<circle cx="1271.1" cy="70.56" r="5.2"/>
<circle cx="1271.64" cy="70.51" r="5.2"/>
<circle cx="1272.19" cy="70.42" r="5.2"/>
<circle cx="1272.74" cy="70.27" r="5.2"/>
<circle cx="1273.31" cy="70.19" r="5.2"/>
<circle cx="1273.87" cy="70.09" r="5.2"/>
<circle cx="1274.44" cy="69.97" r="5.2"/>
<circle cx="1275.02" cy="69.89" r="5.2"/>
<circle cx="1275.61" cy="69.83" r="5.2"/>
<circle cx="1276.2" cy="69.75" r="5.2"/>
<circle cx="1276.8" cy="69.61" r="5.2"/>
<circle cx="1277.4" cy="69.5" r="5.2"/>
<circle cx="1278.02" cy="69.39" r="5.2"/>
<circle cx="1278.64" cy="69.35" r="5.2"/>
<circle cx="1279.27" cy="69.21" r="5.2"/>
<circle cx="1279.91" cy="69.08" r="5.2"/>
<circle cx="1280.55" cy="69.05" r="5.2"/>
<circle cx="1281.21" cy="68.94" r="5.2"/>
<circle cx="1281.87" cy="68.84" r="5.2"/>
<circle cx="1282.55" cy="68.72" r="5.2"/>
<circle cx="1283.23" cy="68.59" r="5.2"/>
<circle cx="1283.93" cy="68.53" r="5.2"/>
<circle cx="1284.64" cy="68.4" r="5.2"/>
<circle cx="1285.36" cy="68.32" r="5.2"/>
<circle cx="1286.09" cy="68.24" r="5.2"/>
<circle cx="1286.83" cy="68.16" r="5.2"/>
<circle cx="1287.59" cy="68" r="5.2"/>
<circle cx="1288.36" cy="67.64" r="5.2"/>
<circle cx="1289.15" cy="67.52" r="5.2"/>
<circle cx="1289.96" cy="67.27" r="5.2"/>
<circle cx="1290.78" cy="66.99" r="5.2"/>
<circle cx="1291.62" cy="66.62" r="5.2"/>
<circle cx="1292.47" cy="66.43" r="5.2"/>
<circle cx="1293.35" cy="66.21" r="5.2"/>
<circle cx="1294.25" cy="65.92" r="5.2"/>
<circle cx="1295.17" cy="65.72" r="5.2"/>
<circle cx="1296.12" cy="65.38" r="5.2"/>
<circle cx="1297.09" cy="65.03" r="5.2"/>
<circle cx="1298.09" cy="64.86" r="5.2"/>
<circle cx="1299.12" cy="64.6" r="5.2"/>
<circle cx="1300.18" cy="64.44" r="5.2"/>
<circle cx="1301.28" cy="64.12" r="5.2"/>
<circle cx="1302.42" cy="63.9" r="5.2"/>
<circle cx="1303.6" cy="63.65" r="5.2"/>
<circle cx="1304.82" cy="63.2" r="5.2"/>
<circle cx="1306.09" cy="62.98" r="5.2"/>
<circle cx="1307.42" cy="62.69" r="5.2"/>
<circle cx="1308.81" cy="62.59" r="5.2"/>
<circle cx="1310.27" cy="62.28" r="5.2"/>
<circle cx="1311.8" cy="61.64" r="5.2"/>
<circle cx="1313.42" cy="61.33" r="5.2"/>
<circle cx="1315.14" cy="60.55" r="5.2"/>
<circle cx="1316.98" cy="59.99" r="5.2"/>
<circle cx="1318.96" cy="59.91" r="5.2"/>
<circle cx="1321.09" cy="59.16" r="5.2"/>
<circle cx="1323.42" cy="58.54" r="5.2"/>
<circle cx="1325.99" cy="58.11" r="5.2"/>
<circle cx="1328.87" cy="57.56" r="5.2"/>
<circle cx="1332.15" cy="57.02" r="5.2"/>
<circle cx="1335.99" cy="56.54" r="5.2"/>
<circle cx="1340.65" cy="56.02" r="5.2"/>
<circle cx="1346.65" cy="55.42" r="5.2"/>
<circle cx="1355.32" cy="54.17" r="5.2"/>
<circle cx="1372.45" cy="44" r="5.2"/>
</g>
<line x1="1090.7" y1="119.3" x2="1370.5" y2="43.1" stroke="#000" stroke-width="2.6"/>
<path d="M1076.15 29.5V316.43H1386.6" stroke="#000" stroke-width="2.55" stroke-linejoin="round" fill="none"/>
<path d="M1087.66 316.43v6.6M1135.53 316.43v6.6M1183.41 316.43v6.6M1231.29 316.43v6.6M1279.17 316.43v6.6M1327.05 316.43v6.6M1374.92 316.43v6.6M1076.15 77.06h-6.6M1076.15 136.84h-6.6M1076.15 196.61h-6.6M1076.15 256.38h-6.6M1076.15 316.16h-6.6" stroke="#333" stroke-width="2.8" fill="none"/>
<g font-size="19.8" fill="#444" stroke="#444" stroke-width="0.25">
<text transform="translate(1087.66 343.6) scale(1.07 1)" text-anchor="middle">-3</text>
<text transform="translate(1135.53 343.6) scale(1.07 1)" text-anchor="middle">-2</text>
<text transform="translate(1183.41 343.6) scale(1.07 1)" text-anchor="middle">-1</text>
<text transform="translate(1231.29 343.6) scale(1.07 1)" text-anchor="middle">0</text>
<text transform="translate(1279.17 343.6) scale(1.07 1)" text-anchor="middle">1</text>
<text transform="translate(1327.05 343.6) scale(1.07 1)" text-anchor="middle">2</text>
<text transform="translate(1374.92 343.6) scale(1.07 1)" text-anchor="middle">3</text>
<text transform="translate(1064.3 84.41) scale(1.07 1)" text-anchor="end">0.0</text>
<text transform="translate(1064.3 144.19) scale(1.07 1)" text-anchor="end">-0.1</text>
<text transform="translate(1064.3 203.96) scale(1.07 1)" text-anchor="end">-0.2</text>
<text transform="translate(1064.3 263.74) scale(1.07 1)" text-anchor="end">-0.3</text>
<text transform="translate(1064.3 323.51) scale(1.07 1)" text-anchor="end">-0.4</text>
</g>
<text x="1231.29" y="376.1" font-size="26.0" stroke="#000" stroke-width="0.3" text-anchor="middle">theoretical</text>
<text transform="translate(1015 172.97) rotate(-90)" font-size="26.0" stroke="#000" stroke-width="0.3" text-anchor="middle">sample</text>
</g></g>
</svg>
</body></html>
